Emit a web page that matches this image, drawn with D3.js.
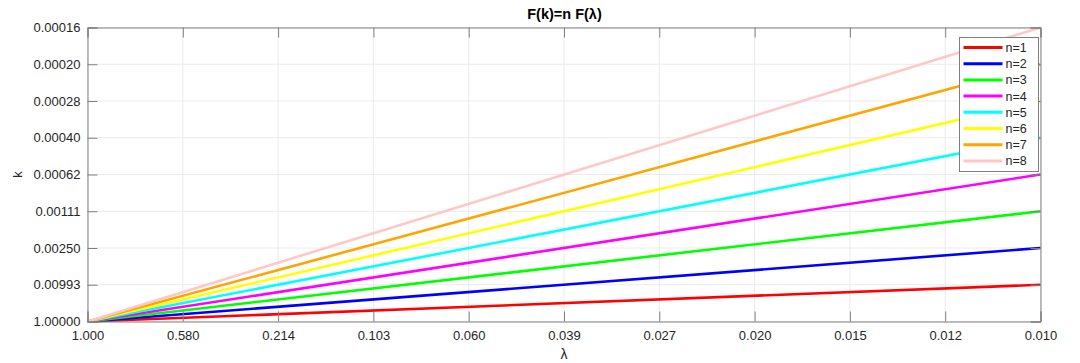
<!DOCTYPE html>
<html>
<head>
<meta charset="utf-8">
<script src="https://cdn.jsdelivr.net/npm/d3@7"></script>
<style>
body { margin: 0; background: #fff; }
text { font-family: "Liberation Sans", Arial, sans-serif; }
</style>
</head>
<body>
<script>
// tick labels as printed, one per unit of F
var xTickLabels = ["1.000", "0.580", "0.214", "0.103", "0.060", "0.039", "0.027", "0.020", "0.015", "0.012", "0.010"];
var yTickLabels = ["1.00000", "0.00993", "0.00250", "0.00111", "0.00062", "0.00040", "0.00028", "0.00020", "0.00016"];

// series: F(k) = n F(lambda), F(lambda) running 0..10
var nValues = [1, 2, 3, 4, 5, 6, 7, 8];
var colors = ["#ff0000", "#0000ff", "#00ff00", "#ff00ff", "#00ffff", "#ffff00", "#ffa500", "#ffc8c8"];
var fLambda = [0, 10];

var margin = {top: 27.5, right: 39.5, bottom: 41.5, left: 87.5},
    width = 1080 - margin.left - margin.right,
    height = 363 - margin.top - margin.bottom;

var xScale = d3.scaleLinear().domain([0, 10]).range([0, width]);
var yScale = d3.scaleLinear().domain([0, 80]).range([height, 0]);

var svg = d3.select('body')
    .append('svg')
    .attr("width", 1080)
    .attr("height", 363);

var g = svg.append("g")
    .attr("transform", "translate(" + margin.left + "," + margin.top + ")");

var xTicks = d3.range(xTickLabels.length);
var yTicks = d3.range(yTickLabels.length).map(function(i) { return i * 10; });

// grid
g.selectAll('.vgrid').data(xTicks).enter().append('line')
    .attr('x1', function(d) { return xScale(d) }).attr('x2', function(d) { return xScale(d) })
    .attr('y1', 0).attr('y2', height)
    .style('stroke', '#ebebeb').style('stroke-width', 1);
g.selectAll('.hgrid').data(yTicks).enter().append('line')
    .attr('x1', 0).attr('x2', width)
    .attr('y1', function(d) { return yScale(d) }).attr('y2', function(d) { return yScale(d) })
    .style('stroke', '#ebebeb').style('stroke-width', 1);

// series lines
var line = d3.line()
    .x(function(d) { return xScale(d[0]) })
    .y(function(d) { return yScale(d[1]) });

nValues.forEach(function(n, i) {
    g.append('path')
        .datum(fLambda.map(function(f) { return [f, n * f]; }))
        .attr('d', line)
        .style('fill', 'none')
        .style('stroke', colors[i])
        .style('stroke-width', 2.6);
});

// axes: ticks inward on all four sides
var axisColor = '#808080';
var xAxisB = d3.axisBottom(xScale).tickValues(xTicks).tickSize(-10).tickPadding(9)
    .tickFormat(function(d) { return xTickLabels[d] });
var xAxisT = d3.axisTop(xScale).tickValues(xTicks).tickSize(-10).tickFormat('');
var yAxisL = d3.axisLeft(yScale).tickValues(yTicks).tickSize(-10).tickPadding(7)
    .tickFormat(function(d) { return yTickLabels[d / 10] });
var yAxisR = d3.axisRight(yScale).tickValues(yTicks).tickSize(-10).tickFormat('');

function styleAxis(sel) {
    sel.selectAll('path').style('stroke', axisColor);
    sel.selectAll('line').style('stroke', axisColor);
    sel.selectAll('text').style('fill', '#262626').style('font-size', '13px')
        .style('font-family', '"Liberation Sans", Arial, sans-serif');
}

g.append('g').attr('transform', 'translate(0,' + height + ')').call(xAxisB).call(styleAxis);
g.append('g').call(xAxisT).call(styleAxis);
g.append('g').call(yAxisL).call(styleAxis);
g.append('g').attr('transform', 'translate(' + width + ',0)').call(yAxisR).call(styleAxis);

// title and axis labels
svg.append('text')
    .attr('x', margin.left + width / 2 + 0.5).attr('y', 19)
    .attr('text-anchor', 'middle')
    .style('font-size', '14.5px').style('font-weight', 'bold').style('fill', '#000')
    .text('F(k)=n F(λ)');

svg.append('text')
    .attr('x', margin.left + width / 2).attr('y', 359)
    .attr('text-anchor', 'middle')
    .style('font-size', '14px').style('fill', '#262626')
    .text('λ');

svg.append('text')
    .attr('transform', 'translate(22,' + (margin.top + height / 2) + ') rotate(-90)')
    .attr('text-anchor', 'middle')
    .style('font-size', '13px').style('fill', '#262626')
    .text('k');

// legend
var legend = svg.append('g').attr('transform', 'translate(959.5,37.5)');
legend.append('rect')
    .attr('width', 79).attr('height', 134)
    .style('fill', '#fff').style('stroke', '#7f7f7f').style('stroke-width', 1);

nValues.forEach(function(n, i) {
    var yy = 10 + i * 16.2;
    legend.append('line')
        .attr('x1', 4).attr('x2', 43).attr('y1', yy).attr('y2', yy)
        .style('stroke', colors[i]).style('stroke-width', 3);
    legend.append('text')
        .attr('x', 46).attr('y', yy + 4.5)
        .style('font-size', '12.5px').style('fill', '#262626')
        .text('n=' + n);
});
</script>
</body>
</html>
